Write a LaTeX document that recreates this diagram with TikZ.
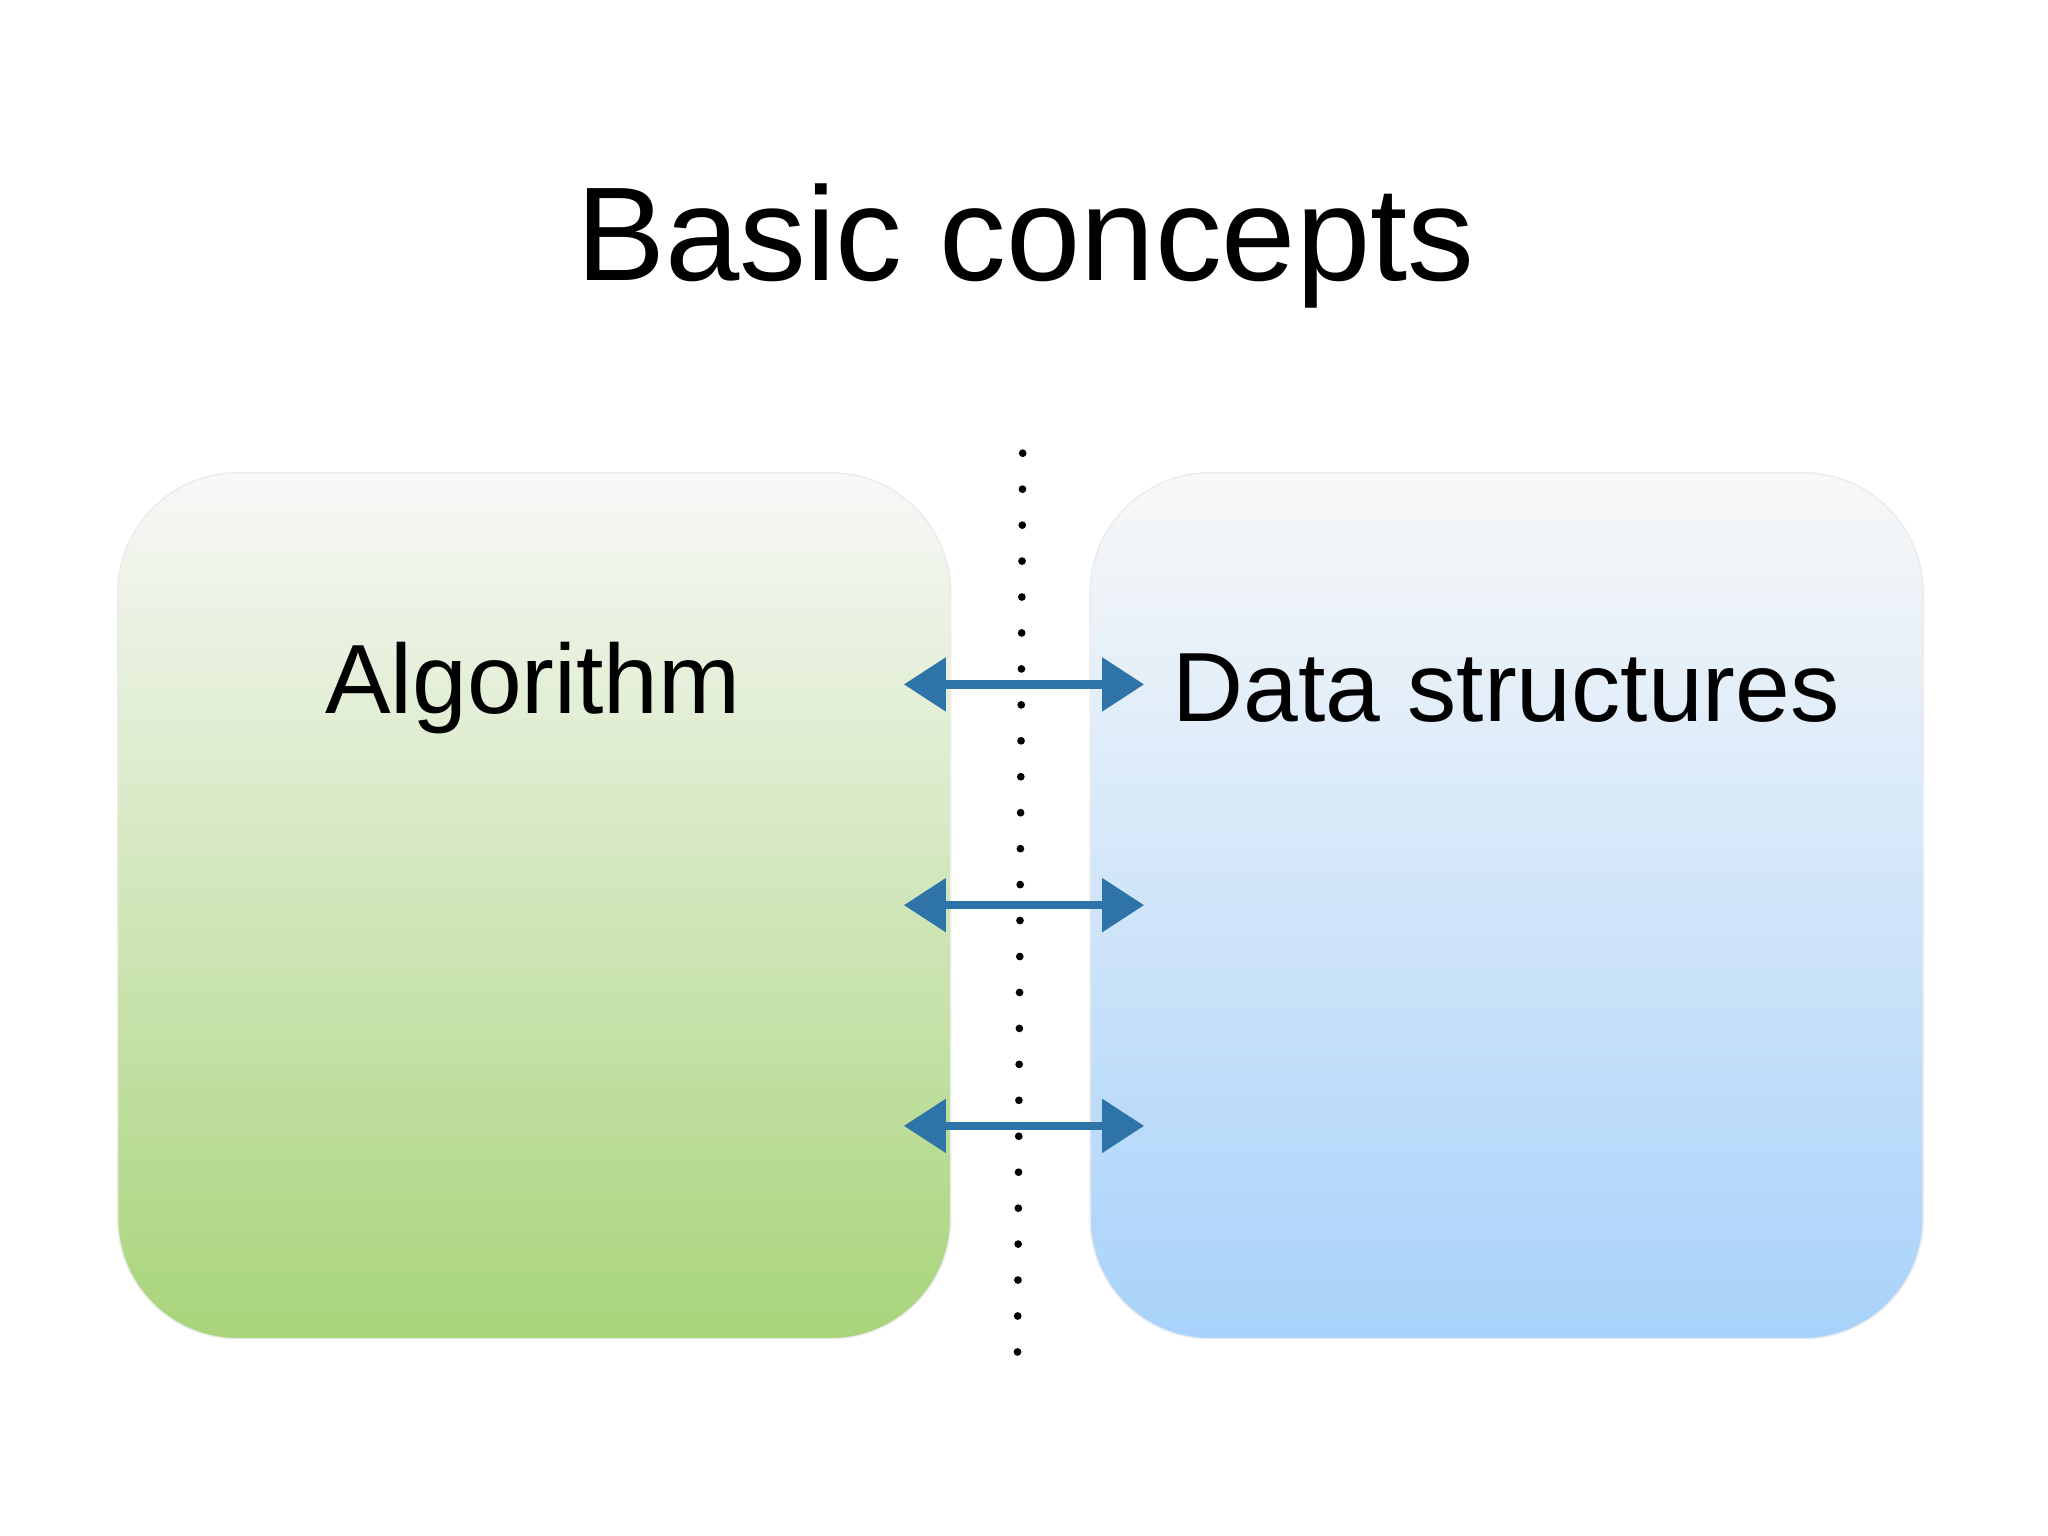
\documentclass[tikz,border=0pt]{standalone}
\usepackage{fontspec}
\setmainfont{Liberation Sans}
\usetikzlibrary{arrows.meta}

\definecolor{topgray}{HTML}{F8F8F8}
\definecolor{algogreen}{HTML}{A8D47A}
\definecolor{datablue}{HTML}{A8D2FA}
\definecolor{arrowblue}{HTML}{2F74A8}

\begin{document}
\begin{tikzpicture}[x=0.01306cm,y=-0.01306cm]
	\useasboundingbox (0,0) rectangle (1568,1176);

	\node (title) at (785,188) {\fontsize{38}{44}\selectfont Basic concepts};

	\begin{scope}[every node/.style={rounded corners=1.2cm,minimum width=8.33cm,minimum height=8.66cm,
		draw=black!8,drop shadow/.style={}}]
		\node[top color=topgray,bottom color=algogreen] (algo) at (409,693.5) {};
		\node[top color=topgray,bottom color=datablue] (data) at (1153.5,693.5) {};
	\end{scope}

	\node (algotext) at (408,527) {\fontsize{28}{34}\selectfont Algorithm};
	\node (datatext) at (1153,527) {\fontsize{28}{34}\selectfont Data structures};

	\coordinate (dtop) at (783,347);
	\coordinate (dbot) at (779,1040);
	\draw[line width=2.2pt,line cap=round,dash pattern=on 0pt off 0.3595cm] (dtop) -- (dbot);

	\foreach \y [count=\i] in {524,693,862} {
		\coordinate (l\i) at (692,\y);
		\coordinate (r\i) at (876,\y);
	}

	\begin{scope}[>={Triangle[length=0.42cm,width=0.52cm]},
		every path/.style={draw=arrowblue,fill=arrowblue,line width=2.4pt}]
		\path [<->] (l1) -- (r1);
		\path [<->] (l2) -- (r2);
		\path [<->] (l3) -- (r3);
	\end{scope}
\end{tikzpicture}
\end{document}
